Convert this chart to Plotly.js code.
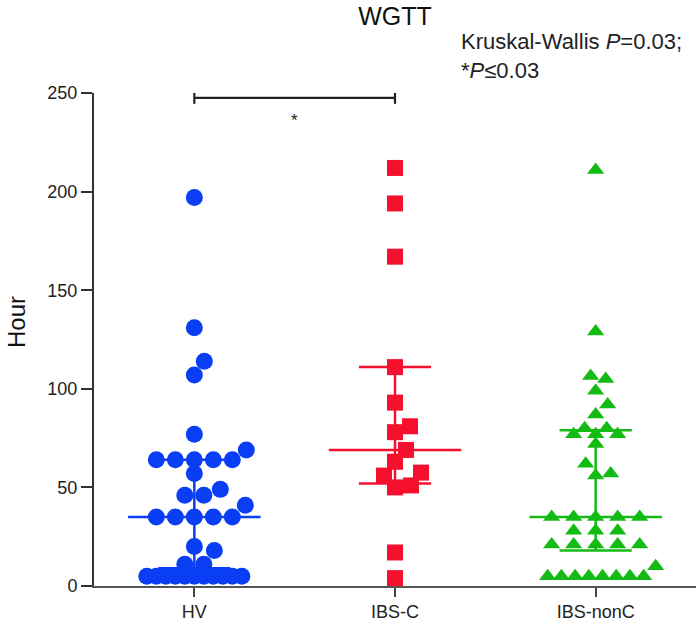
<!DOCTYPE html>
<html><head><meta charset="utf-8">
<script src="https://cdn.plot.ly/plotly-3.0.1.min.js"></script>
<style>html,body{margin:0;padding:0;background:#fff}</style>
</head><body><div id="chart" style="width:696px;height:631px"></div>
<script>
// ---- data ----
const categories = ['HV', 'IBS-C', 'IBS-nonC'];
const hvValues = [197, 131, 114, 107, 77, 69, 64, 64, 64, 64, 64, 57, 49, 46, 46, 41,
  35, 35, 35, 35, 35, 20, 18, 11, 11, 5, 5, 5, 5, 5, 5, 5, 5, 5, 5, 5];
const ibsCValues = [212, 194, 167, 111, 93, 81, 78, 69, 63, 57.5, 56, 51, 50, 17, 4];
const ibsNonCValues = [211, 129, 106.5, 105, 99, 92, 87, 80, 80, 77, 77, 77, 72, 62, 57, 56,
  35, 35, 35, 35, 35, 28, 28, 28, 21, 21, 21, 21, 21, 10, 5, 5, 5, 5, 5, 5, 5, 5];
const medians = [35, 69, 35];
const q1 = [9, 52, 18];
const q3 = [64, 111, 79];
const yTicks = [0, 50, 100, 150, 200, 250];
const sigPair = [0, 1];
const sigLevel = 247.5;

// ---- layout constants ----
const W = 696, H = 631;
const M = {l: 94, r: 0, t: 93, b: 45};
const yMax = 250;
const pw = W - M.l - M.r, ph = H - M.t - M.b;
const pxPerCat = pw / 3, pxPerUnit = ph / yMax;
const font = 'Liberation Sans, Arial, Helvetica, sans-serif';
const colors = ['#0a3ef5', '#f5102e', '#14bb14'];
const symbols = ['circle', 'square', 'triangle-up'];
const sizes = [17, 16, 15];

// simple GraphPad-like scatter layout: equal values form centred rows, others swarm
function swarm(vals, D, rowGap, maxRow) {
  const idx = vals.map((v, i) => i).sort((a, b) => vals[a] - vals[b]);
  const placed = [];
  const off = new Array(vals.length).fill(0);
  let k = 0;
  while (k < idx.length) {
    let j = k;
    while (j + 1 < idx.length && vals[idx[j + 1]] === vals[idx[k]]) j++;
    const n = j - k + 1;
    const y = vals[idx[k]] * pxPerUnit;
    if (n > 1) {
      const s = Math.min(rowGap, maxRow / (n - 1));
      for (let m = 0; m < n; m++) {
        const x = (m - (n - 1) / 2) * s;
        off[idx[k + m]] = x;
        placed.push({x, y, dense: s < D * 0.8});
      }
    } else {
      let chosen = 0;
      outer:
      for (let d = 0; d < 250; d += 1) {
        const cands = d === 0 ? [0] : [d, -d];
        for (const x of cands) {
          let ok = true;
          for (const p of placed) {
            const thr = p.dense ? D * 0.55 : D;
            if (Math.hypot(x - p.x, y - p.y) < thr) { ok = false; break; }
          }
          if (ok) { chosen = x; break outer; }
        }
      }
      off[idx[k]] = chosen;
      placed.push({x: chosen, y, dense: false});
    }
    k = j + 1;
  }
  return off.map(o => o / pxPerCat);
}

const groups = [hvValues, ibsCValues, ibsNonCValues];
const swarmParams = [[17, 19, 95], [16, 20, 60], [15, 22, 96]];
const traces = groups.map((vals, i) => {
  const offs = swarm(vals, ...swarmParams[i]);
  return {
    type: 'scatter', mode: 'markers', name: categories[i],
    x: offs.map(o => i + o), y: vals, cliponaxis: false,
    marker: {symbol: symbols[i], size: sizes[i], color: colors[i], line: {width: 0}},
    hoverinfo: 'y'
  };
});

const shapes = [];
categories.forEach((c, i) => {
  const ln = {color: colors[i], width: 2.5};
  shapes.push({type: 'line', xref: 'x', yref: 'y', x0: i - 0.33, x1: i + 0.33, y0: medians[i], y1: medians[i], line: ln});
  shapes.push({type: 'line', xref: 'x', yref: 'y', x0: i, x1: i, y0: q1[i], y1: q3[i], line: ln});
  shapes.push({type: 'line', xref: 'x', yref: 'y', x0: i - 0.18, x1: i + 0.18, y0: q1[i], y1: q1[i], line: ln});
  shapes.push({type: 'line', xref: 'x', yref: 'y', x0: i - 0.18, x1: i + 0.18, y0: q3[i], y1: q3[i], line: ln});
});
const sigLn = {color: '#222', width: 2.2};
shapes.push({type: 'line', xref: 'x', yref: 'y', x0: sigPair[0], x1: sigPair[1], y0: sigLevel, y1: sigLevel, line: sigLn});
sigPair.forEach(p => shapes.push({type: 'line', xref: 'x', yref: 'y', x0: p, x1: p, y0: sigLevel - 3, y1: sigLevel + 2.5, line: sigLn}));

const layout = {
  width: W, height: H, margin: M, showlegend: false,
  paper_bgcolor: '#fff', plot_bgcolor: '#fff',
  title: {text: 'WGTT', font: {family: font, size: 25, color: '#111'}, x: 0.5, xref: 'paper', y: 1 - 16 / H, yref: 'container', yanchor: 'middle'},
  xaxis: {range: [-0.5, 2.5], tickvals: [0, 1, 2], ticktext: categories, showgrid: false, zeroline: false,
    showline: true, linecolor: '#555', linewidth: 1.5, ticks: 'outside', ticklen: 9, tickwidth: 2, tickcolor: '#444',
    tickfont: {family: font, size: 18, color: '#222'}, fixedrange: true},
  yaxis: {range: [0, yMax], tickvals: yTicks, showgrid: false, zeroline: false,
    showline: true, linecolor: '#333', linewidth: 2, ticks: 'outside', ticklen: 11, tickwidth: 2, tickcolor: '#333',
    tickfont: {family: font, size: 18, color: '#222'}, fixedrange: true},
  shapes: shapes,
  annotations: [
    {text: 'Hour', xref: 'paper', yref: 'paper', x: (16 - M.l) / pw, y: (H - M.b - 322) / ph, textangle: -90,
      showarrow: false, xanchor: 'center', yanchor: 'middle', font: {family: font, size: 24, color: '#111'}},
    {text: 'Kruskal-Wallis <i>P</i>=0.03;<br>*<i>P</i>≤0.03', xref: 'paper', yref: 'paper', x: (459 - M.l) / pw, y: (H - M.b - 27) / ph,
      showarrow: false, xanchor: 'left', yanchor: 'top', align: 'left', font: {family: font, size: 22, color: '#222'}},
    {text: '*', xref: 'x', yref: 'y', x: (sigPair[0] + sigPair[1]) / 2, y: 236, showarrow: false,
      xanchor: 'center', yanchor: 'middle', font: {family: font, size: 17, color: '#222'}}
  ]
};
Plotly.newPlot('chart', traces, layout, {displayModeBar: false, staticPlot: true});
</script>
</body></html>
